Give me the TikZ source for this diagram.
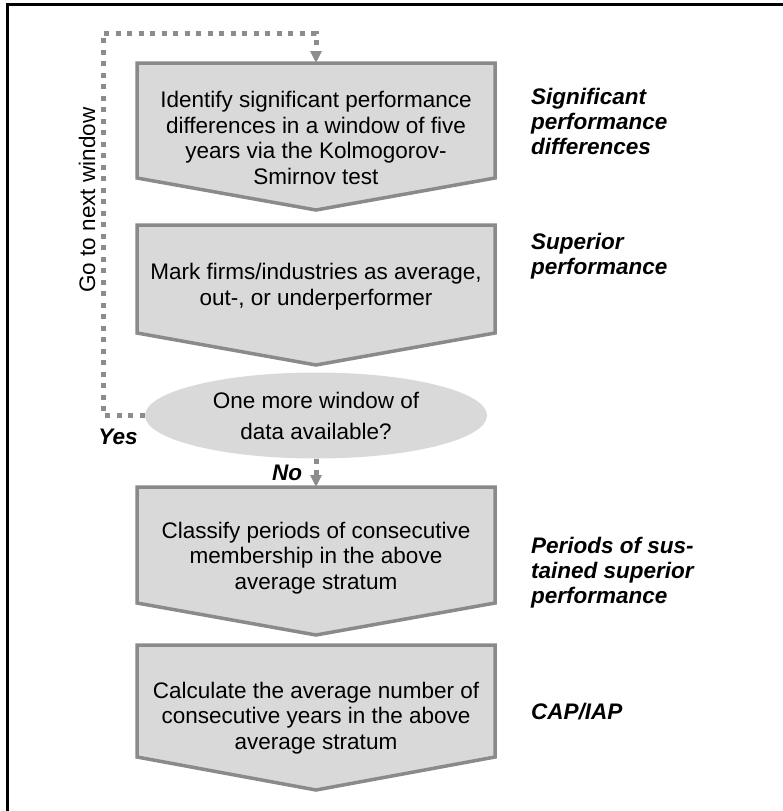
\documentclass[tikz,border=0pt]{standalone}
\usepackage{fontspec}
\setmainfont{Liberation Sans}
\usetikzlibrary{arrows.meta,shapes.geometric}

\definecolor{boxfill}{HTML}{D9D9D9}
\definecolor{boxline}{HTML}{8A8A8A}
\definecolor{dotline}{HTML}{8C8C8C}

\tikzset{
  stepbox/.style={fill=boxfill, draw=boxline, line width=3.5pt, line join=miter},
  boxtext/.style={align=center, font=\fontsize{22.5}{25.7}\selectfont, inner sep=0pt},
  sidelabel/.style={align=left, anchor=west, font=\fontsize{22.5}{25}\selectfont\bfseries\itshape, inner sep=0pt},
  dotflow/.style={draw=dotline, line width=5pt, dash pattern=on 5pt off 6.5pt,
    -{Triangle[width=11pt,length=12pt,fill=dotline]}, shorten >=0pt},
  decision/.style={ellipse, fill=boxfill, minimum width=342pt, minimum height=86pt, inner sep=0pt,
    align=center, font=\fontsize{22.5}{31}\selectfont},
}

\begin{document}
\begin{tikzpicture}[x=1pt, y=-1pt]
  \useasboundingbox (0,0) rectangle (783,811);

  % frame
  \draw[line width=2.2pt] (7.5,811) -- (7.5,4.5) -- (783,4.5);

  % step 1
  \draw[stepbox] (137,63) -- (495,63) -- (495,178) -- (316,210) -- (137,178) -- cycle;
  \coordinate (b1n) at (316,63);
  \node[boxtext] (b1) at (316,138) {Identify significant performance\\differences in a window of five\\years via the Kolmogorov-\\Smirnov test};

  % step 2
  \draw[stepbox] (137,225) -- (495,225) -- (495,333) -- (316,365) -- (137,333) -- cycle;
  \node[boxtext] (b2) at (316,287) {Mark firms/industries as average,\\out-, or underperformer};

  % decision
  \node[decision] (q) at (316,415.5) {One more window of\\data available?};

  % step 3
  \draw[stepbox] (137,487) -- (495,487) -- (495,603) -- (316,635) -- (137,603) -- cycle;
  \coordinate (b3n) at (316,487);
  \node[boxtext] (b3) at (316,558) {Classify periods of consecutive\\membership in the above\\average stratum};

  % step 4
  \draw[stepbox] (137,645) -- (495,645) -- (495,757) -- (316,790) -- (137,757) -- cycle;
  \node[boxtext] (b4) at (316,718) {Calculate the average number of\\consecutive years in the above\\average stratum};

  % loop back and exit
  \coordinate (loopcorner) at (103,33);
  \draw[dotflow] (q.west) -| (loopcorner) -| (b1n);
  \draw[dotflow] (q.south) -- (b3n);

  \node[rotate=90, inner sep=0pt, font=\fontsize{22.5}{25}\selectfont] (gonext) at (87,200) {Go to next window};
  \node[inner sep=0pt, font=\fontsize{22.5}{25}\selectfont\bfseries\itshape] (yes) at (118,437) {Yes};
  \node[inner sep=0pt, font=\fontsize{22.5}{25}\selectfont\bfseries\itshape] (no) at (287,473) {No};

  % outcome labels
  \node[sidelabel] (l1) at (531,121) {Significant\\performance\\differences};
  \node[sidelabel] (l2) at (531,256) {Superior\\performance};
  \node[sidelabel] (l3) at (531,573) {Periods of sus-\\tained superior\\performance};
  \node[sidelabel] (l4) at (531,712) {CAP/IAP};
\end{tikzpicture}
\end{document}
